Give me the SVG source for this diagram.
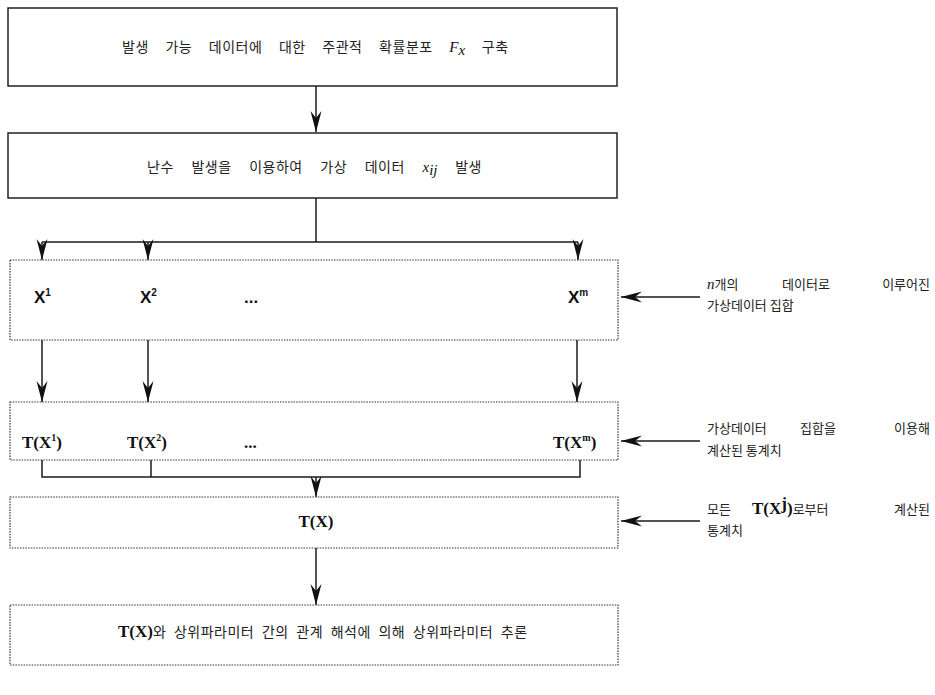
<svg xmlns="http://www.w3.org/2000/svg" width="935" height="695" viewBox="0 0 935 695">
<defs>
<style>
.bg{fill:#fff}
.solid{fill:#fff;stroke:#222;stroke-width:1.5}
.dot{fill:#fff;stroke:#333;stroke-width:1.2;stroke-dasharray:1.5 1.2}
.ln{fill:none;stroke:#1a1a1a;stroke-width:1.5}
.ko{font-family:"Noto Sans CJK KR","Noto Sans",sans-serif;font-size:13px;fill:#222}
.kb{font-family:"Noto Sans CJK KR","Noto Sans",sans-serif;font-size:14px;fill:#222;letter-spacing:0.5px}
.bx{font-family:"Liberation Sans",Arial,sans-serif;font-weight:bold;font-size:17px;fill:#111}
.bt{font-family:"Liberation Serif","Times New Roman",serif;font-weight:bold;font-size:17px;fill:#111}
.it{font-family:"Liberation Serif","Times New Roman",serif;font-style:italic;font-size:15px;fill:#111}
.sup{font-size:10px}
</style>
<marker id="ah" viewBox="-21 -6 22 12" refX="0" refY="0" markerWidth="22" markerHeight="12" markerUnits="userSpaceOnUse" orient="auto">
<path d="M0,0 L-21,-5.5 L-14,0 L-21,5.5 Z" fill="#111"/>
</marker>
</defs>
<rect class="bg" x="0" y="0" width="935" height="695"/>

<g id="connectors">
<line class="ln" x1="316" y1="86" x2="316" y2="132" marker-end="url(#ah)"/>
<polyline class="ln" points="316,198 316,242"/>
<polyline class="ln" points="42,242 578,242"/>
<line class="ln" x1="42" y1="242" x2="42" y2="260" marker-end="url(#ah)"/>
<line class="ln" x1="148" y1="242" x2="148" y2="260" marker-end="url(#ah)"/>
<line class="ln" x1="578" y1="242" x2="578" y2="260" marker-end="url(#ah)"/>
<line class="ln" x1="42" y1="340" x2="42" y2="402" marker-end="url(#ah)"/>
<line class="ln" x1="148" y1="340" x2="148" y2="402" marker-end="url(#ah)"/>
<line class="ln" x1="577" y1="340" x2="577" y2="402" marker-end="url(#ah)"/>
<polyline class="ln" points="42,460 42,477 580,477 580,460"/>
<line class="ln" x1="151" y1="460" x2="151" y2="477"/>
<line class="ln" x1="316" y1="477" x2="316" y2="497" marker-end="url(#ah)"/>
<line class="ln" x1="316" y1="548" x2="316" y2="605" marker-end="url(#ah)"/>
<line class="ln" x1="700" y1="297" x2="621" y2="297" marker-end="url(#ah)"/>
<line class="ln" x1="700" y1="441" x2="621" y2="441" marker-end="url(#ah)"/>
<line class="ln" x1="700" y1="521" x2="621" y2="521" marker-end="url(#ah)"/>
</g>

<g id="node-prior">
<rect class="solid" x="8" y="8" width="609" height="78"/>
<text class="kb" x="122" y="52" word-spacing="13">발생 가능 데이터에 대한 주관적 확률분포 <tspan class="it" letter-spacing="0">F</tspan><tspan class="it" font-size="10" dy="3" letter-spacing="0">x</tspan><tspan dy="-3"> 구축</tspan></text>
</g>

<g id="node-generate">
<rect class="solid" x="8" y="133" width="609" height="65"/>
<text class="kb" x="147" y="172" word-spacing="14">난수 발생을 이용하여 가상 데이터 <tspan class="it" letter-spacing="0">x</tspan><tspan class="it" font-size="10" dy="3" letter-spacing="0">ij</tspan><tspan dy="-3"> 발생</tspan></text>
</g>

<g id="node-datasets">
<rect class="dot" x="10" y="260" width="608" height="80"/>
<text class="bx" x="34" y="303">X<tspan class="sup" dy="-7">1</tspan></text>
<text class="bx" x="140" y="303">X<tspan class="sup" dy="-7">2</tspan></text>
<text class="bx" x="244" y="303" font-size="12">...</text>
<text class="bx" x="568" y="303">X<tspan class="sup" dy="-7">m</tspan></text>
</g>

<g id="node-stats">
<rect class="dot" x="10" y="402" width="608" height="58"/>
<text class="bt" x="22" y="448">T(X<tspan class="sup" dy="-7">1</tspan><tspan dy="7">)</tspan></text>
<text class="bt" x="127" y="448">T(X<tspan class="sup" dy="-7">2</tspan><tspan dy="7">)</tspan></text>
<text class="bt" x="244" y="448" font-size="12">...</text>
<text class="bt" x="553" y="448">T(X<tspan class="sup" dy="-7">m</tspan><tspan dy="7">)</tspan></text>
</g>

<g id="node-tx">
<rect class="dot" x="10" y="497" width="608" height="51"/>
<text class="bt" x="316" y="527" text-anchor="middle">T(X)</text>
</g>

<g id="node-infer">
<rect class="dot" x="10" y="605" width="608" height="60"/>
<text class="kb" x="118" y="637" word-spacing="4"><tspan class="bt" font-size="16" letter-spacing="0">T(X)</tspan>와 상위파라미터 간의 관계 해석에 의해 상위파라미터 추론</text>
</g>

<g id="label-datasets">
<text class="ko" x="707" y="289"><tspan class="it" font-size="14">n</tspan>개의</text>
<text class="ko" x="782" y="289">데이터로</text>
<text class="ko" x="930" y="289" text-anchor="end">이루어진</text>
<text class="ko" x="707" y="310">가상데이터 집합</text>
</g>

<g id="label-stats">
<text class="ko" x="707" y="433">가상데이터</text>
<text class="ko" x="800" y="433">집합을</text>
<text class="ko" x="930" y="433" text-anchor="end">이용해</text>
<text class="ko" x="707" y="455">계산된 통계치</text>
</g>

<g id="label-tx">
<text class="ko" x="707" y="514">모든</text>
<text class="ko" x="752" y="514"><tspan class="bt" font-size="14">T(X</tspan><tspan class="bt" font-size="9" dy="-5">j</tspan><tspan class="bt" font-size="14" dy="5">)</tspan>로부터</text>
<text class="ko" x="930" y="514" text-anchor="end">계산된</text>
<text class="ko" x="707" y="535">통계치</text>
</g>
</svg>
